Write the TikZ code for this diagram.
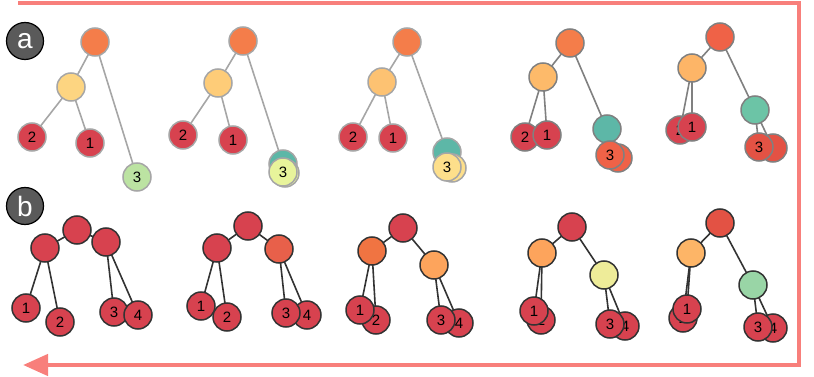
\documentclass[tikz,border=0pt]{standalone}
\usepackage{fontspec}
\setmainfont{Liberation Sans}
\usetikzlibrary{arrows.meta}
\usetikzlibrary{backgrounds}

\definecolor{framered}{HTML}{F87F7B}
\definecolor{taggray}{HTML}{5A5A5A}
\definecolor{rootorange}{HTML}{F47D4A}
\definecolor{leafred}{HTML}{D7424F}
\definecolor{midA}{HTML}{FDD581}
\definecolor{midB}{HTML}{FECC78}
\definecolor{midC}{HTML}{FDC272}
\definecolor{midD}{HTML}{FDBA6A}
\definecolor{midE}{HTML}{FDB567}
\definecolor{tealA}{HTML}{5DB7A7}
\definecolor{tealB}{HTML}{6CC4A6}
\definecolor{greenA}{HTML}{BCE3A2}
\definecolor{limeA}{HTML}{E8F49B}
\definecolor{yellowA}{HTML}{FDDF8B}
\definecolor{redorangeA}{HTML}{EF6247}
\definecolor{redorangeB}{HTML}{E35244}
\definecolor{bRightB}{HTML}{E8604A}
\definecolor{bLeftC}{HTML}{F07442}
\definecolor{bRightC}{HTML}{FDA45C}
\definecolor{bRightD}{HTML}{EEEC99}
\definecolor{bRightE}{HTML}{99D5A6}

\begin{document}
\begin{tikzpicture}[x=1pt,y=-1pt]
\useasboundingbox (0,0) rectangle (814,377);

% frame with the return arrow
\coordinate (f0) at (18,3);
\coordinate (f1) at (799,3);
\coordinate (f2) at (799,365);
\coordinate (f3) at (23,365);
\draw [framered,line width=4.5pt,-{Triangle[length=25pt,width=21pt]}] (f0) -- (f1) -- (f2) -- (f3);

\begin{scope}[every node/.style={circle,minimum size=37pt,inner sep=0pt,fill=taggray,draw=black,line width=1.2pt,text=white,font=\fontsize{28}{28}\selectfont}]
    \node (ta) at (25,41) {a};
    \node (tb) at (25,206) {b};
\end{scope}

% row a
\begin{scope}[every node/.style={circle,minimum size=28pt,inner sep=0pt,draw=gray!70,line width=1.5pt,font=\fontsize{15}{15}\selectfont}]
    \node [fill=rootorange] (a1r) at (95,42) {};
    \node [fill=midA] (a1m) at (71,87) {};
    \node [fill=leafred] (a12) at (32,137) {2};
    \node [fill=leafred] (a11) at (90,143) {1};
    \node [fill=greenA] (a13) at (137,177) {3};

    \node [fill=rootorange] (a2r) at (243,41) {};
    \node [fill=midB] (a2m) at (218,83) {};
    \node [fill=leafred] (a22) at (183,135) {2};
    \node [fill=leafred] (a21) at (233,140) {1};
    \node [fill=tealA] (a2t) at (283,164) {};
    \node [fill=limeA] (a2s) at (285,173) {};
    \node [fill=limeA] (a23) at (283,172) {3};

    \node [fill=rootorange] (a3r) at (407,42) {};
    \node [fill=midC] (a3m) at (382,82) {};
    \node [fill=leafred] (a32) at (353,137) {2};
    \node [fill=leafred] (a31) at (393,138) {1};
    \node [fill=tealA] (a3t) at (447,152) {};
    \node [fill=yellowA] (a3s) at (452,168) {};
    \node [fill=yellowA] (a33) at (447,167) {3};
\end{scope}
\begin{scope}[every node/.style={circle,minimum size=28pt,inner sep=0pt,draw=gray,line width=1.5pt,font=\fontsize{15}{15}\selectfont}]
    \node [fill=rootorange] (a4r) at (570,43) {};
    \node [fill=midD] (a4m) at (543,77) {};
    \node [fill=leafred] (a42) at (525,137) {2};
    \node [fill=leafred] (a41) at (547,135) {1};
    \node [fill=tealA] (a4t) at (607,129) {};
    \node [fill=redorangeA] (a4s) at (618,158) {};
    \node [fill=redorangeA] (a43) at (610,155) {3};

    \node [fill=redorangeA] (a5r) at (720,37) {};
    \node [fill=midE] (a5m) at (692,68) {};
    \node [fill=leafred] (a52) at (680,130) {2};
    \node [fill=leafred] (a51) at (692,127) {1};
    \node [fill=tealB] (a5t) at (755,110) {};
    \node [fill=redorangeB] (a5s) at (773,148) {};
    \node [fill=redorangeB] (a53) at (759,147) {3};
\end{scope}

% row b
\begin{scope}[every node/.style={circle,minimum size=28pt,inner sep=0pt,fill=leafred,draw=black!80,line width=1.5pt,font=\fontsize{15}{15}\selectfont}]
    \node (b1r) at (77,230) {};
    \node (b1l) at (45,248) {};
    \node (b1g) at (106,242) {};
    \node (b11) at (26,308) {1};
    \node (b12) at (60,322) {2};
    \node (b13) at (114,312) {3};
    \node (b14) at (138,315) {4};

    \node (b2r) at (248,226) {};
    \node (b2l) at (217,248) {};
    \node [fill=bRightB] (b2g) at (279,249) {};
    \node (b21) at (201,306) {1};
    \node (b22) at (227,317) {2};
    \node (b24) at (307,315) {4};
    \node (b23) at (286,313) {3};

    \node (b3r) at (403,228) {};
    \node [fill=bLeftC] (b3l) at (372,251) {};
    \node [fill=bRightC] (b3g) at (434,265) {};
    \node (b32) at (376,320) {2};
    \node (b31) at (360,310) {1};
    \node (b34) at (459,323) {4};
    \node (b33) at (441,320) {3};

    \node (b4r) at (572,227) {};
    \node [fill=bRightC] (b4l) at (542,253) {};
    \node [fill=bRightD] (b4g) at (604,275) {};
    \node (b42) at (541,320) {2};
    \node (b41) at (534,311) {1};
    \node (b44) at (625,326) {4};
    \node (b43) at (610,324) {3};

    \node [fill=redorangeB] (b5r) at (720,223) {};
    \node [fill=midE] (b5l) at (691,253) {};
    \node [fill=bRightE] (b5g) at (753,285) {};
    \node (b52) at (683,318) {2};
    \node (b51) at (687,309) {1};
    \node (b54) at (773,328) {4};
    \node (b53) at (758,327) {3};
\end{scope}

\begin{scope}[on background layer,
              light_edge/.style={draw=gray!70,line width=1.6pt},
              mid_edge/.style={draw=gray,line width=1.6pt},
              dark_edge/.style={draw=black!80,line width=1.6pt}]
    \path (a1r.center) edge [light_edge] (a1m.center) edge [light_edge] (a13.center);
    \path (a1m.center) edge [light_edge] (a12.center) edge [light_edge] (a11.center);
    \path (a2r.center) edge [light_edge] (a2m.center) edge [light_edge] (a2t.center);
    \path (a2m.center) edge [light_edge] (a22.center) edge [light_edge] (a21.center);
    \path (a3r.center) edge [light_edge] (a3m.center) edge [light_edge] (a3t.center);
    \path (a3m.center) edge [light_edge] (a32.center) edge [light_edge] (a31.center);
    \path (a4r.center) edge [mid_edge] (a4m.center) edge [mid_edge] (a4t.center);
    \path (a4m.center) edge [mid_edge] (a42.center) edge [mid_edge] (a41.center);
    \path (a5r.center) edge [mid_edge] (a5m.center) edge [mid_edge] (a5t.center);
    \path (a5m.center) edge [mid_edge] (a52.center) edge [mid_edge] (a51.center);
    \path (a5t.center) edge [mid_edge] (a53.center) edge [mid_edge] (a5s.center);
    \foreach \p in {1,...,5} {
        \path (b\p r.center) edge [dark_edge] (b\p l.center) edge [dark_edge] (b\p g.center);
        \path (b\p l.center) edge [dark_edge] (b\p 1.center) edge [dark_edge] (b\p 2.center);
        \path (b\p g.center) edge [dark_edge] (b\p 3.center) edge [dark_edge] (b\p 4.center);
    }
\end{scope}
\end{tikzpicture}
\end{document}
